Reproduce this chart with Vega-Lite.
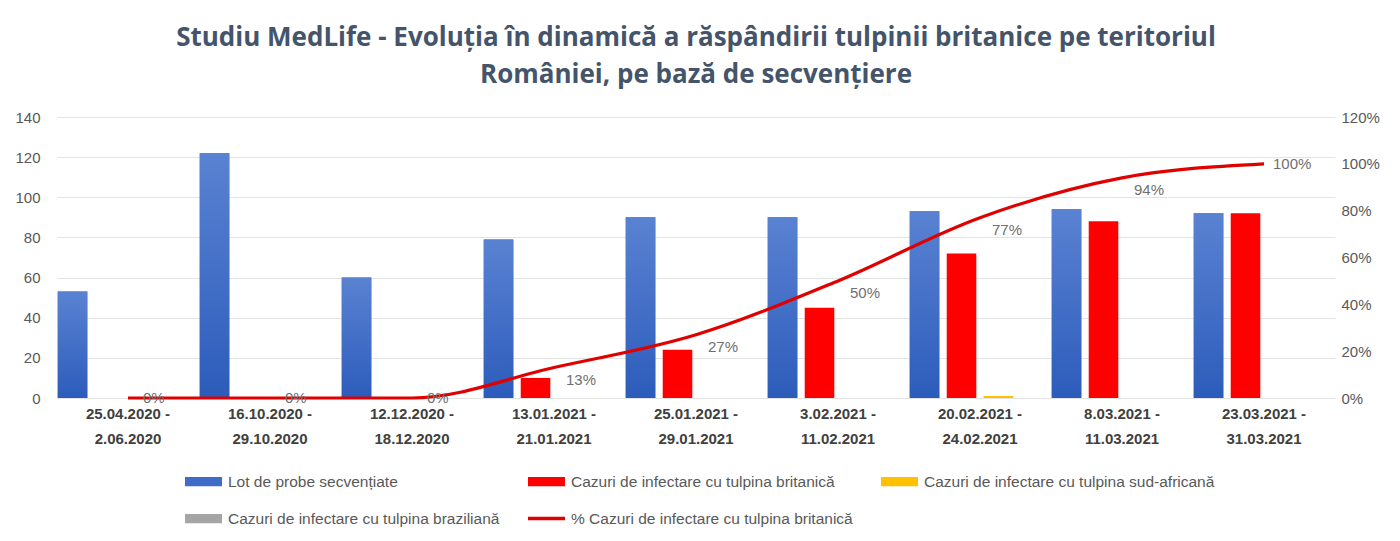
{
  "$schema": "https://vega.github.io/schema/vega-lite/v6.json",
  "autosize": "none",
  "width": 1278,
  "height": 281,
  "padding": {"left": 57, "top": 117, "right": 65, "bottom": 143},
  "background": "white",
  "title": {
    "text": ["Studiu MedLife - Evoluția în dinamică a răspândirii tulpinii britanice pe teritoriul", "României, pe bază de secvențiere"],
    "font": "Open Sans",
    "fontSize": 26,
    "fontWeight": "bold",
    "color": "#44546A",
    "lineHeight": 37,
    "offset": 22,
    "anchor": "middle"
  },
  "config": {
    "view": {"stroke": null},
    "axis": {"domain": false, "ticks": false, "labelFont": "Liberation Sans", "labelColor": "#595959", "labelFontSize": 15}
  },
  "datasets": {
    "bars": [
      {"period": "25.04.2020 - 2.06.2020", "series": "Lot de probe secvențiate", "value": 53},
      {"period": "25.04.2020 - 2.06.2020", "series": "Cazuri de infectare cu tulpina britanică", "value": 0},
      {"period": "25.04.2020 - 2.06.2020", "series": "Cazuri de infectare cu tulpina sud-africană", "value": 0},
      {"period": "25.04.2020 - 2.06.2020", "series": "Cazuri de infectare cu tulpina braziliană", "value": 0},
      {"period": "16.10.2020 - 29.10.2020", "series": "Lot de probe secvențiate", "value": 122},
      {"period": "16.10.2020 - 29.10.2020", "series": "Cazuri de infectare cu tulpina britanică", "value": 0},
      {"period": "16.10.2020 - 29.10.2020", "series": "Cazuri de infectare cu tulpina sud-africană", "value": 0},
      {"period": "16.10.2020 - 29.10.2020", "series": "Cazuri de infectare cu tulpina braziliană", "value": 0},
      {"period": "12.12.2020 - 18.12.2020", "series": "Lot de probe secvențiate", "value": 60},
      {"period": "12.12.2020 - 18.12.2020", "series": "Cazuri de infectare cu tulpina britanică", "value": 0},
      {"period": "12.12.2020 - 18.12.2020", "series": "Cazuri de infectare cu tulpina sud-africană", "value": 0},
      {"period": "12.12.2020 - 18.12.2020", "series": "Cazuri de infectare cu tulpina braziliană", "value": 0},
      {"period": "13.01.2021 - 21.01.2021", "series": "Lot de probe secvențiate", "value": 79},
      {"period": "13.01.2021 - 21.01.2021", "series": "Cazuri de infectare cu tulpina britanică", "value": 10},
      {"period": "13.01.2021 - 21.01.2021", "series": "Cazuri de infectare cu tulpina sud-africană", "value": 0},
      {"period": "13.01.2021 - 21.01.2021", "series": "Cazuri de infectare cu tulpina braziliană", "value": 0},
      {"period": "25.01.2021 - 29.01.2021", "series": "Lot de probe secvențiate", "value": 90},
      {"period": "25.01.2021 - 29.01.2021", "series": "Cazuri de infectare cu tulpina britanică", "value": 24},
      {"period": "25.01.2021 - 29.01.2021", "series": "Cazuri de infectare cu tulpina sud-africană", "value": 0},
      {"period": "25.01.2021 - 29.01.2021", "series": "Cazuri de infectare cu tulpina braziliană", "value": 0},
      {"period": "3.02.2021 - 11.02.2021", "series": "Lot de probe secvențiate", "value": 90},
      {"period": "3.02.2021 - 11.02.2021", "series": "Cazuri de infectare cu tulpina britanică", "value": 45},
      {"period": "3.02.2021 - 11.02.2021", "series": "Cazuri de infectare cu tulpina sud-africană", "value": 0},
      {"period": "3.02.2021 - 11.02.2021", "series": "Cazuri de infectare cu tulpina braziliană", "value": 0},
      {"period": "20.02.2021 - 24.02.2021", "series": "Lot de probe secvențiate", "value": 93},
      {"period": "20.02.2021 - 24.02.2021", "series": "Cazuri de infectare cu tulpina britanică", "value": 72},
      {"period": "20.02.2021 - 24.02.2021", "series": "Cazuri de infectare cu tulpina sud-africană", "value": 1},
      {"period": "20.02.2021 - 24.02.2021", "series": "Cazuri de infectare cu tulpina braziliană", "value": 0},
      {"period": "8.03.2021 - 11.03.2021", "series": "Lot de probe secvențiate", "value": 94},
      {"period": "8.03.2021 - 11.03.2021", "series": "Cazuri de infectare cu tulpina britanică", "value": 88},
      {"period": "8.03.2021 - 11.03.2021", "series": "Cazuri de infectare cu tulpina sud-africană", "value": 0},
      {"period": "8.03.2021 - 11.03.2021", "series": "Cazuri de infectare cu tulpina braziliană", "value": 0},
      {"period": "23.03.2021 - 31.03.2021", "series": "Lot de probe secvențiate", "value": 92},
      {"period": "23.03.2021 - 31.03.2021", "series": "Cazuri de infectare cu tulpina britanică", "value": 92},
      {"period": "23.03.2021 - 31.03.2021", "series": "Cazuri de infectare cu tulpina sud-africană", "value": 0},
      {"period": "23.03.2021 - 31.03.2021", "series": "Cazuri de infectare cu tulpina braziliană", "value": 0}
    ],
    "pct": [
      {"period": "25.04.2020 - 2.06.2020", "pct": 0},
      {"period": "16.10.2020 - 29.10.2020", "pct": 0},
      {"period": "12.12.2020 - 18.12.2020", "pct": 0},
      {"period": "13.01.2021 - 21.01.2021", "pct": 0.13},
      {"period": "25.01.2021 - 29.01.2021", "pct": 0.27},
      {"period": "3.02.2021 - 11.02.2021", "pct": 0.50},
      {"period": "20.02.2021 - 24.02.2021", "pct": 0.77},
      {"period": "8.03.2021 - 11.03.2021", "pct": 0.94},
      {"period": "23.03.2021 - 31.03.2021", "pct": 1.0}
    ]
  },
  "layer": [
    {
      "data": {"name": "bars"},
      "layer": [
        {
          "mark": {"type": "bar"},
          "encoding": {
            "x": {
              "field": "period", "type": "nominal", "sort": null,
              "scale": {"paddingInner": 0, "paddingOuter": 0},
              "axis": {
                "title": null, "labelAngle": 0, "labelFontWeight": "bold", "labelColor": "#404040",
                "labelFontSize": 15, "labelLineHeight": 25, "labelPadding": 8, "labelBaseline": "top",
                "labelExpr": "[split(datum.value, ' - ')[0] + ' -', split(datum.value, ' - ')[1]]"
              }
            },
            "xOffset": {
              "field": "series", "type": "nominal",
              "scale": {"domain": ["Lot de probe secvențiate", "Cazuri de infectare cu tulpina britanică", "Cazuri de infectare cu tulpina sud-africană", "Cazuri de infectare cu tulpina braziliană"], "paddingInner": 0.2, "paddingOuter": 0.02}
            },
            "y": {
              "field": "value", "type": "quantitative",
              "scale": {"domain": [0, 140], "nice": false},
              "axis": {"title": null, "values": [0, 20, 40, 60, 80, 100, 120, 140], "grid": true, "gridColor": "#E3E3E3", "labelPadding": 17}
            },
            "color": {
              "field": "series", "type": "nominal",
              "scale": {
                "domain": ["Lot de probe secvențiate", "Cazuri de infectare cu tulpina britanică", "Cazuri de infectare cu tulpina sud-africană", "Cazuri de infectare cu tulpina braziliană", "% Cazuri de infectare cu tulpina britanică"],
                "range": ["#3F6CC8", "#FF0000", "#FFC000", "#A5A5A5", "#E00000"]
              },
              "legend": {
                "orient": "none", "legendX": 128, "legendY": 346, "direction": "horizontal", "columns": 3,
                "title": null, "labelFont": "Liberation Sans", "labelFontSize": 15.5, "labelColor": "#595959",
                "symbolSize": 1369, "symbolType": "M-1,-0.25H1V0.25H-1Z", "symbolStrokeWidth": 0, "symbolOpacity": 1,
                "columnPadding": 28, "rowPadding": 10, "labelOffset": 6, "labelLimit": 400,
                "encode": {"symbols": {"update": {"shape": {"signal": "indexof(datum.label, '%') === 0 ? 'M-1,-0.09H1V0.09H-1Z' : 'M-1,-0.25H1V0.25H-1Z'"}}}}
              }
            }
          }
        },
        {
          "transform": [{"filter": "datum.series === 'Lot de probe secvențiate'"}],
          "mark": {"type": "bar", "color": {"gradient": "linear", "x1": 0, "y1": 0, "x2": 0, "y2": 1, "stops": [{"offset": 0, "color": "#5A82D2"}, {"offset": 1, "color": "#2C5CBB"}]}},
          "encoding": {
            "x": {"field": "period", "type": "nominal", "sort": null},
            "xOffset": {"field": "series", "type": "nominal"},
            "y": {"field": "value", "type": "quantitative"}
          }
        }
      ]
    },
    {
      "data": {"name": "pct"},
      "layer": [
        {
          "mark": {"type": "line", "interpolate": "monotone", "strokeWidth": 3.2},
          "encoding": {
            "x": {"field": "period", "type": "nominal", "sort": null},
            "y": {
              "field": "pct", "type": "quantitative",
              "scale": {"domain": [0, 1.2], "nice": false},
              "axis": {"orient": "right", "title": null, "format": ".0%", "values": [0, 0.2, 0.4, 0.6, 0.8, 1.0, 1.2], "grid": false, "labelPadding": 6}
            },
            "color": {"datum": "% Cazuri de infectare cu tulpina britanică", "type": "nominal"}
          }
        },
        {
          "transform": [{"filter": "datum.pct === 0"}],
          "mark": {"type": "text", "align": "left", "dx": 15, "dy": 0, "fontSize": 15, "font": "Liberation Sans", "color": "#6F6F6F"},
          "encoding": {
            "x": {"field": "period", "type": "nominal", "sort": null},
            "y": {"field": "pct", "type": "quantitative"},
            "text": {"field": "pct", "type": "quantitative", "format": ".0%"}
          }
        },
        {
          "transform": [{"filter": "datum.pct > 0 && datum.pct < 1"}],
          "mark": {"type": "text", "align": "left", "dx": 12, "dy": 12, "fontSize": 15, "font": "Liberation Sans", "color": "#6F6F6F"},
          "encoding": {
            "x": {"field": "period", "type": "nominal", "sort": null},
            "y": {"field": "pct", "type": "quantitative"},
            "text": {"field": "pct", "type": "quantitative", "format": ".0%"}
          }
        },
        {
          "transform": [{"filter": "datum.pct >= 1"}],
          "mark": {"type": "text", "align": "left", "dx": 9, "dy": 0, "fontSize": 15, "font": "Liberation Sans", "color": "#6F6F6F"},
          "encoding": {
            "x": {"field": "period", "type": "nominal", "sort": null},
            "y": {"field": "pct", "type": "quantitative"},
            "text": {"field": "pct", "type": "quantitative", "format": ".0%"}
          }
        }
      ]
    }
  ],
  "resolve": {"scale": {"y": "independent"}}
}
